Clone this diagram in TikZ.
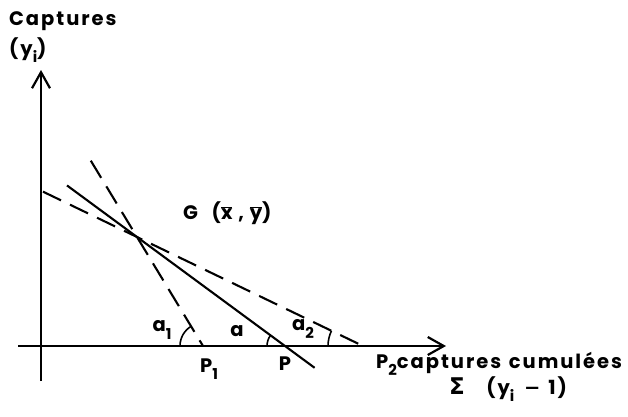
\documentclass[tikz,border=0pt]{standalone}
\usepackage{fontspec}
\setmainfont[LetterSpace=10]{Poppins}
\newfontfamily\symfont{DejaVu Sans}
\usetikzlibrary{arrows.meta,angles,calc}
\newcommand\lowidx[1]{\raisebox{-0.7ex}{\fontsize{15}{15}\selectfont #1}}
\begin{document}
\begin{tikzpicture}[x=1pt,y=1pt,
  axis/.style={line width=2.4pt,-{Straight Barb[length=16pt,width=18pt,line width=2.2pt]}},
  solidline/.style={line width=2.1pt},
  dashline/.style={line width=2.1pt,dash pattern=on 20pt off 10pt},
  lbl/.style={font=\fontsize{19.5}{23}\selectfont\bfseries, inner sep=0pt},
  anglemark/.style={draw,line width=1.6pt,angle radius=#1}
]
\useasboundingbox (0,0) rectangle (628,416);
\coordinate (O) at (41,70);
\coordinate (xstart) at (18,70);
\coordinate (xend) at (446,70);
\coordinate (ystart) at (41,35);
\coordinate (yend) at (41,346);
\coordinate (G) at (137,179);
\coordinate (P1) at (203,70);
\coordinate (P) at (285,70);
\coordinate (P2) at (363,70);
\coordinate (s1) at ($(P1)!1.7!(G)$);
\coordinate (s2) at ($(P2)!1.416!(G)$);
\coordinate (s3a) at ($(P)!1.473!(G)$);
\coordinate (s3b) at ($(P)!-0.2!(G)$);

\draw[axis] (xstart) -- (xend);
\draw[axis] (ystart) -- (yend);
\draw[dashline] (s1) -- (P1);
\draw[dashline] (s2) -- (P2);
\draw[solidline] (s3a) -- (s3b);
\pic[anglemark=23pt] {angle = G--P1--O};
\pic[anglemark=18pt] {angle = G--P--O};
\pic[anglemark=35pt] {angle = G--P2--O};

\node[lbl,anchor=west] (captures) at (9,395) {Captures};
\node[lbl,anchor=west] (yi) at (9,366) {(y\lowidx{i})};
\node[lbl,anchor=west] (Glabel) at (183,203) {G\hspace{0.7em}($\overline{\mbox{x}}$\hspace{0.3em},\hspace{0.3em}$\overline{\mbox{y}}$)};
\node[lbl] (a1) at (162,86) {a\lowidx{1}};
\node[lbl] (a) at (237,85) {a};
\node[lbl] (a2) at (303,87) {a\lowidx{2}};
\node[lbl] (P1label) at (209,47) {P\lowidx{1}};
\node[lbl] (Plabel) at (285,52) {P};
\node[lbl,anchor=west] (xlabel) at (376,52) {P\lowidx{2}captures\hspace{0.4em}cumulées};
\node[lbl,anchor=west] (sumlabel) at (449,27) {{\symfont\fontsize{23}{23}\selectfont Σ}\hspace{1.1em}(y\lowidx{i}\hspace{0.5em}{\symfont −}\hspace{0.4em}1)};
\end{tikzpicture}
\end{document}
